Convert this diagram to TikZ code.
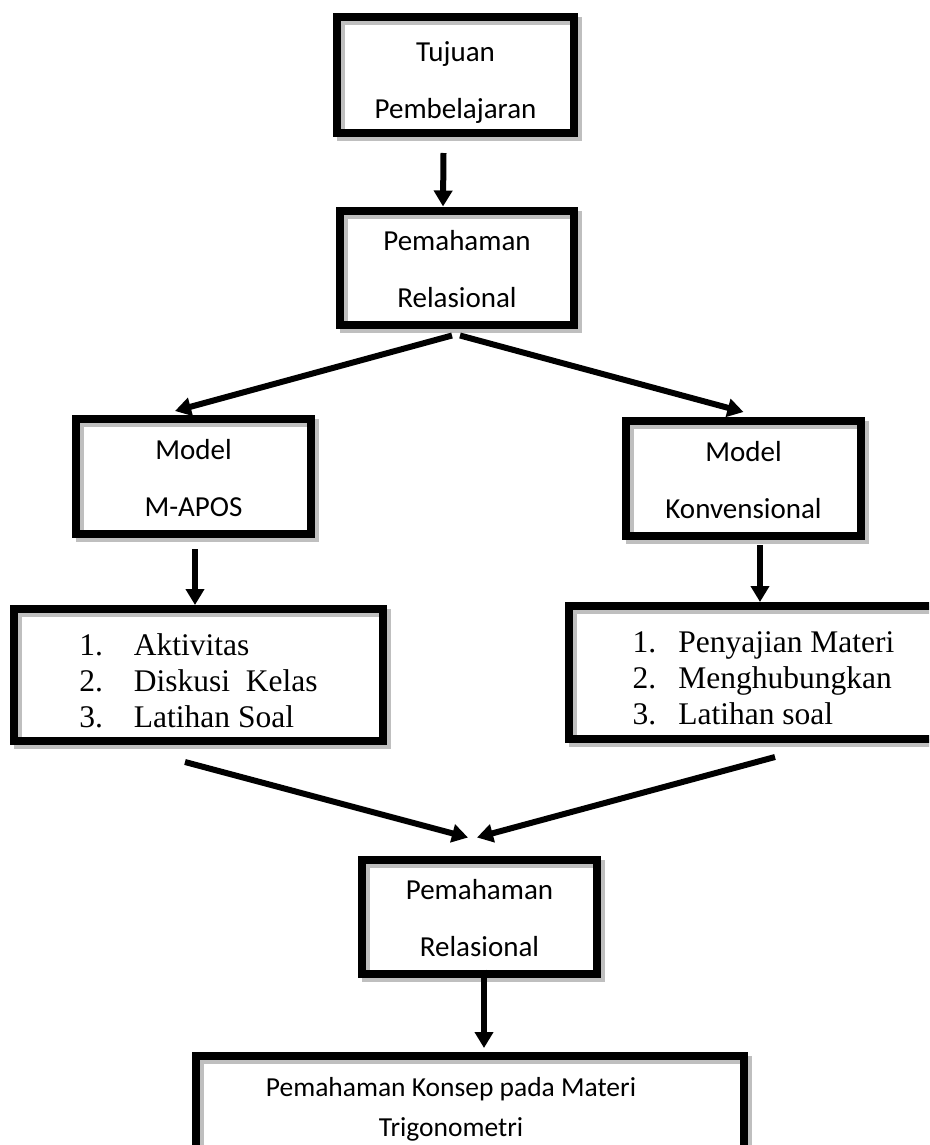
\documentclass[tikz,border=0pt]{standalone}
\usepackage{fontspec}
\setmainfont{Liberation Serif}
\newfontfamily\calibri{Carlito}
\usetikzlibrary{arrows.meta}
\newcommand\twoline[2]{\begin{tabular}{@{}c@{}}#1\\#2\end{tabular}}
\tikzset{
	frame/.style={draw, line width=8pt, inner sep=0pt,
		preaction={draw=gray!50, transform canvas={shift={(4pt,-4pt)}}}},
	box/.style={frame, font=\calibri\fontsize{29}{57}\selectfont},
	listbox/.style={frame, font=\fontsize{31.5}{36}\selectfont},
	arr/.style={line width=6pt, -{Triangle[width=18pt,length=16pt]}}
}
\begin{document}
\begin{tikzpicture}[x=1pt,y=-1pt]
	\useasboundingbox (0,0) rectangle (929,1145);
	\clip (0,0) rectangle (929,1145);
	%boxes
	\node[box, minimum width=237pt, minimum height=116pt] (b1) at (455.5,75) {\raisebox{-4pt}[\height][\depth]{\twoline{Tujuan}{Pembelajaran}}};
	\node[box, minimum width=234pt, minimum height=113pt] (b2) at (457,267.5) {\twoline{Pemahaman}{Relasional}};
	\node[box, minimum width=235pt, minimum height=115pt] (b3) at (193.5,476.5) {\twoline{Model}{M-APOS}};
	\node[box, minimum width=235pt, minimum height=115pt] (b4) at (743.5,478.5) {\twoline{Model}{Konvensional}};
	\node[listbox, minimum width=369pt, minimum height=132pt] (b5) at (198.5,675)
		{\raisebox{-9pt}[\height][\depth]{\begin{tabular}{@{}l@{\hspace{31pt}}l@{}}1.&Aktivitas\\2.&Diskusi\ \ Kelas\\3.&Latihan Soal\end{tabular}}};
	\node[listbox, minimum width=389pt, minimum height=133pt] (b6) at (763.5,672.5)
		{\raisebox{-9pt}[\height][\depth]{\begin{tabular}{@{}l@{\hspace{22pt}}l@{}}1.&Penyajian Materi\\2.&Menghubungkan\\3.&Latihan soal\end{tabular}}};
	\node[box, minimum width=235pt, minimum height=113pt] (b7) at (479.5,916.5) {\twoline{Pemahaman}{Relasional}};
	\node[frame, minimum width=548pt, minimum height=108pt] (b8) at (470,1110) {};
	\node[font=\calibri\fontsize{27.5}{40}\selectfont, inner sep=0pt] (b8t) at (451,1108) {\twoline{Pemahaman Konsep pada Materi}{Trigonometri}};
	%arrows
	\draw[arr] ([xshift=-12pt,yshift=-16pt]b1.south) -- ([xshift=-14pt]b2.north);
	\draw[arr] ([xshift=-5pt,yshift=-7pt]b2.south) -- ([xshift=-18.5pt,yshift=4pt]b3.north);
	\draw[arr] ([xshift=3pt,yshift=-7pt]b2.south) -- ([yshift=5pt]b4.north);
	\draw[arr] ([xshift=1.5pt,yshift=-11pt]b3.south) -- ([xshift=-3.5pt]b5.north);
	\draw[arr] ([xshift=16.5pt,yshift=-5pt]b4.south) -- ([xshift=-3.5pt]b6.north);
	\draw[arr] ([xshift=-13.5pt,yshift=-17pt]b5.south) -- ([xshift=-11.5pt,yshift=18pt]b7.north);
	\draw[arr] ([xshift=11.5pt,yshift=-14pt]b6.south) -- ([xshift=-2.5pt,yshift=18pt]b7.north);
	\draw[arr] ([xshift=4.5pt,yshift=8pt]b7.south) -- ([xshift=14pt,yshift=4pt]b8.north);
\end{tikzpicture}
\end{document}
